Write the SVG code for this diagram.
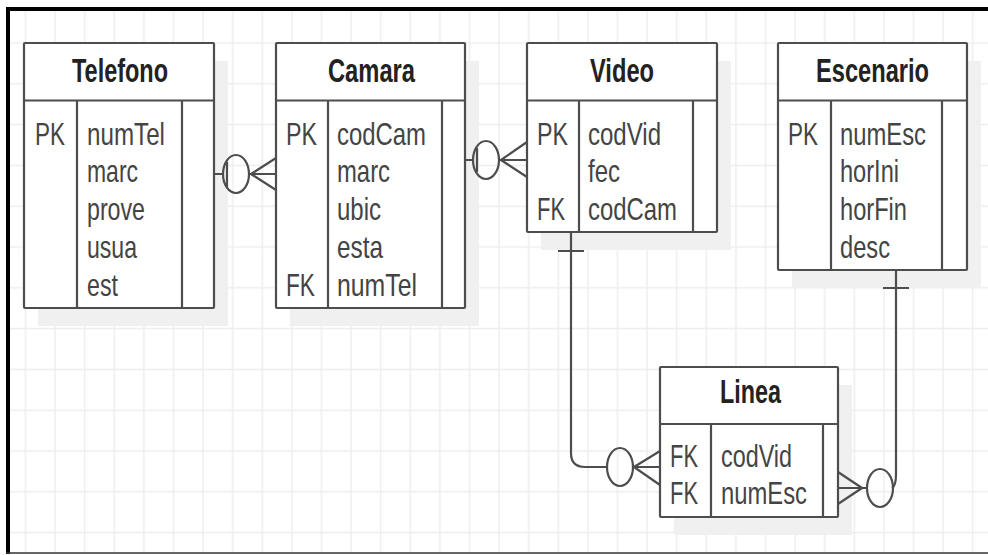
<svg xmlns="http://www.w3.org/2000/svg" width="988" height="555" viewBox="0 0 988 555">
<defs>
<pattern id="grid" patternUnits="userSpaceOnUse" x="10.7" y="22.6" width="29.6" height="40.8">
<path d="M14.8,0 V40.8 M0,20.4 H29.6" stroke="#ededed" stroke-width="1.4" fill="none"/>
</pattern>
<style>
.box{fill:#fff;stroke:#4d4d4d;stroke-width:2.2}
.sh{fill:#f0f0f0}
.ln{stroke:#4d4d4d;stroke-width:2.2;fill:none}
.title{font-family:"Liberation Sans",Arial,sans-serif;font-weight:bold;font-size:34px;fill:#222}
.fld{font-family:"Liberation Sans",Arial,sans-serif;font-size:32px;fill:#444}
</style>
</defs>
<rect x="0" y="0" width="988" height="555" fill="#fff"/>
<rect x="10" y="11" width="978" height="541" fill="url(#grid)"/>
<rect x="6" y="7" width="4" height="547" fill="#000"/>
<rect x="6" y="7" width="982" height="4" fill="#000"/>
<line x1="6" y1="553" x2="988" y2="553" stroke="#333" stroke-width="1.5"/>

<g id="Telefono">
<rect class="sh" x="38" y="61" width="190" height="265"/>
<rect class="box" x="24" y="43" width="190" height="265" rx="1"/>
<path class="ln" d="M24,100.5 H214 M77,100.5 V308 M182,100.5 V308"/>
<text class="title" x="72" y="82" textLength="96" lengthAdjust="spacingAndGlyphs">Telefono</text>
<text class="fld" x="35" y="145" textLength="30" lengthAdjust="spacingAndGlyphs">PK</text>
<text class="fld" x="87" y="145" textLength="78" lengthAdjust="spacingAndGlyphs">numTel</text>
<text class="fld" x="87" y="182" textLength="51" lengthAdjust="spacingAndGlyphs">marc</text>
<text class="fld" x="87" y="220" textLength="58" lengthAdjust="spacingAndGlyphs">prove</text>
<text class="fld" x="87" y="258" textLength="50" lengthAdjust="spacingAndGlyphs">usua</text>
<text class="fld" x="87" y="296" textLength="31" lengthAdjust="spacingAndGlyphs">est</text>
</g>

<g id="Camara">
<rect class="sh" x="290" y="61" width="189" height="265"/>
<rect class="box" x="276" y="43" width="189" height="265" rx="1"/>
<path class="ln" d="M276,100.5 H465 M328,100.5 V308 M442,100.5 V308"/>
<text class="title" x="328" y="82" textLength="87" lengthAdjust="spacingAndGlyphs">Camara</text>
<text class="fld" x="286" y="145" textLength="31" lengthAdjust="spacingAndGlyphs">PK</text>
<text class="fld" x="337" y="145" textLength="89" lengthAdjust="spacingAndGlyphs">codCam</text>
<text class="fld" x="337" y="182" textLength="53" lengthAdjust="spacingAndGlyphs">marc</text>
<text class="fld" x="337" y="220" textLength="44" lengthAdjust="spacingAndGlyphs">ubic</text>
<text class="fld" x="337" y="258" textLength="46" lengthAdjust="spacingAndGlyphs">esta</text>
<text class="fld" x="286" y="296" textLength="29" lengthAdjust="spacingAndGlyphs">FK</text>
<text class="fld" x="337" y="296" textLength="80" lengthAdjust="spacingAndGlyphs">numTel</text>
</g>

<g id="Video">
<rect class="sh" x="541" y="61" width="190" height="189"/>
<rect class="box" x="527" y="43" width="190" height="189" rx="1"/>
<path class="ln" d="M527,100.5 H717 M579,100.5 V232 M693,100.5 V232"/>
<text class="title" x="590" y="82" textLength="64" lengthAdjust="spacingAndGlyphs">Video</text>
<text class="fld" x="537" y="145" textLength="31" lengthAdjust="spacingAndGlyphs">PK</text>
<text class="fld" x="588" y="145" textLength="73" lengthAdjust="spacingAndGlyphs">codVid</text>
<text class="fld" x="588" y="182" textLength="32" lengthAdjust="spacingAndGlyphs">fec</text>
<text class="fld" x="537" y="220" textLength="28" lengthAdjust="spacingAndGlyphs">FK</text>
<text class="fld" x="588" y="220" textLength="89" lengthAdjust="spacingAndGlyphs">codCam</text>
</g>

<g id="Escenario">
<rect class="sh" x="792" y="61" width="189" height="227"/>
<rect class="box" x="778" y="43" width="189" height="227" rx="1"/>
<path class="ln" d="M778,100.5 H967 M831,100.5 V270 M942,100.5 V270"/>
<text class="title" x="816" y="82" textLength="113" lengthAdjust="spacingAndGlyphs">Escenario</text>
<text class="fld" x="788" y="145" textLength="30" lengthAdjust="spacingAndGlyphs">PK</text>
<text class="fld" x="840" y="145" textLength="86" lengthAdjust="spacingAndGlyphs">numEsc</text>
<text class="fld" x="840" y="182" textLength="59" lengthAdjust="spacingAndGlyphs">horIni</text>
<text class="fld" x="840" y="220" textLength="67" lengthAdjust="spacingAndGlyphs">horFin</text>
<text class="fld" x="840" y="258" textLength="50" lengthAdjust="spacingAndGlyphs">desc</text>
</g>

<g id="Linea">
<rect class="sh" x="674" y="385" width="178" height="150"/>
<rect class="box" x="660" y="367" width="178" height="150" rx="1"/>
<path class="ln" d="M660,424 H838 M711,424 V517 M823,424 V517"/>
<text class="title" x="720" y="403" textLength="61" lengthAdjust="spacingAndGlyphs">Linea</text>
<text class="fld" x="670" y="467" textLength="28" lengthAdjust="spacingAndGlyphs">FK</text>
<text class="fld" x="721" y="467" textLength="71" lengthAdjust="spacingAndGlyphs">codVid</text>
<text class="fld" x="670" y="504" textLength="28" lengthAdjust="spacingAndGlyphs">FK</text>
<text class="fld" x="721" y="504" textLength="86" lengthAdjust="spacingAndGlyphs">numEsc</text>
</g>

<g id="connectors">
<path class="ln" d="M214,174 H223 M227,162 V187 M249,174 H276 M251,174 L276,158 M251,174 L276,190"/>
<ellipse class="ln" cx="236" cy="174" rx="13" ry="19"/>
<path class="ln" d="M465,160 H473 M477,148 V172 M499,160 H527 M501,160 L527,142 M501,160 L527,177"/>
<ellipse class="ln" cx="486" cy="160" rx="13" ry="19"/>
<path class="ln" d="M571,232 V453 Q571,467 585,467 H607 M558,251 H584 M633,467 H660 M634,467 L660,451 M634,467 L660,485"/>
<ellipse class="ln" cx="620" cy="467" rx="13" ry="19"/>
<path class="ln" d="M896,270 V474 Q896,486 892,488 M883,288 H909 M838,488 H867 M862,488 L838,472 M862,488 L838,504"/>
<ellipse class="ln" cx="880" cy="488" rx="13" ry="19"/>
</g>
</svg>
